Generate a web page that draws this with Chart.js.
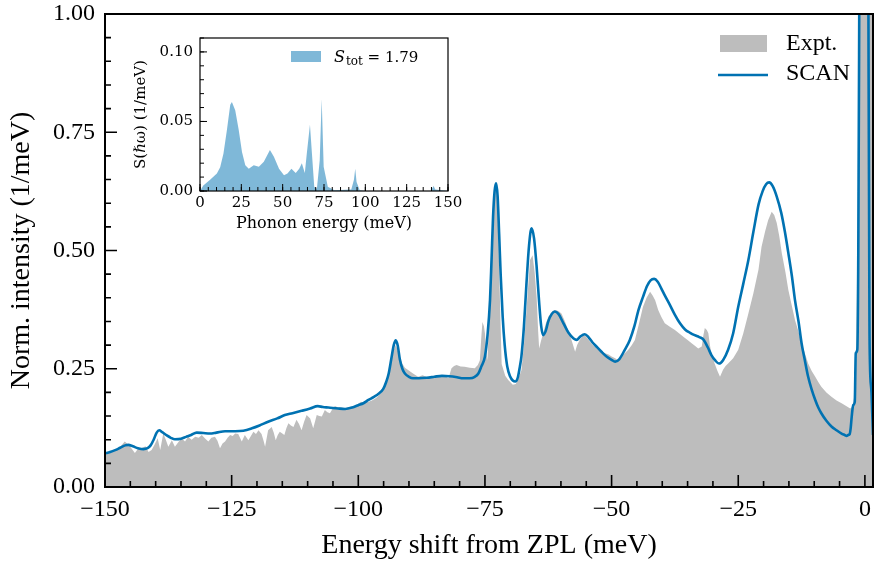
<!DOCTYPE html>
<html>
<head>
<meta charset="utf-8">
<script src="https://cdn.jsdelivr.net/npm/chart.js@4.4.0/dist/chart.umd.min.js"></script>
<style>
  html, body { margin: 0; padding: 0; background: #fff; }
  #wrap { position: relative; width: 876px; height: 562px; }
  #main { position: absolute; left: 0; top: 0; }
  #inset { position: absolute; left: 120px; top: 18px; }
</style>
</head>
<body>
<div id="wrap">
  <canvas id="main" width="876" height="562"></canvas>
  <canvas id="inset" width="360" height="220"></canvas>
</div>
<script>
const exptEnergy = [
  -150.0, -149.0, -148.0, -147.0, -146.1, -145.2, -144.1, -143.4, -142.8, -142.0,
  -141.4, -140.8, -140.2, -139.6, -139.1, -138.5, -138.0, -137.5, -136.8, -136.2,
  -135.5, -134.9, -134.2, -133.6, -132.9, -132.2, -131.5, -130.9, -130.2, -129.6,
  -129.0, -128.3, -127.8, -127.3, -126.8, -126.3, -125.8, -125.3, -124.8, -124.3,
  -123.7, -123.0, -122.4, -121.7, -121.2, -120.7, -120.2, -119.7, -119.1, -118.7,
  -118.4, -117.8, -117.1, -116.7, -116.3, -115.9, -115.5, -115.0, -114.6, -114.2,
  -113.8, -113.3, -112.8, -112.2, -111.7, -111.2, -110.7, -110.2, -109.5, -108.9,
  -108.5, -108.2, -107.7, -107.2, -106.6, -106.1, -105.6, -105.1, -104.6, -104.0,
  -103.3, -102.6, -102.0, -101.3, -100.7, -100.1, -99.5, -98.8, -98.0, -97.3,
  -96.5, -95.8, -95.0, -94.3, -93.8, -93.2, -92.6, -92.1, -91.4, -90.8,
  -90.1, -89.2, -88.2, -87.3, -86.4, -85.5, -84.5, -83.5, -82.8, -82.2,
  -81.6, -81.1, -80.6, -79.8, -79.0, -78.0, -77.0, -76.4, -76.0, -75.7,
  -75.5, -75.2, -75.0, -74.7, -74.5, -74.1, -73.7, -73.3, -72.9, -72.5,
  -72.1, -71.7, -71.0, -70.4, -69.5, -68.9, -68.3, -67.8, -67.3, -66.8,
  -66.1, -65.6, -65.2, -64.8, -64.5, -64.3, -63.9, -63.5, -63.0, -62.5,
  -61.8, -61.2, -60.5, -59.9, -59.2, -58.6, -57.9, -57.2, -56.8, -56.3,
  -55.8, -55.3, -54.6, -54.0, -53.3, -52.6, -52.0, -51.3, -50.6, -50.0,
  -49.3, -48.7, -48.0, -47.4, -46.7, -46.0, -45.4, -44.6, -43.8, -43.1,
  -42.4, -41.9, -41.4, -40.8, -40.2, -39.5, -38.5, -37.5, -36.7, -35.9,
  -35.0, -34.2, -33.5, -32.9, -32.2, -31.9, -31.6, -31.2, -30.9, -30.6,
  -30.3, -29.7, -29.1, -28.6, -28.0, -27.5, -27.0, -26.0, -25.0, -24.0,
  -23.0, -22.0, -21.0, -20.4, -19.7, -19.1, -18.4, -17.9, -17.4, -16.9,
  -16.4, -15.7, -15.1, -14.4, -13.8, -13.1, -12.5, -11.8, -11.2, -10.5,
  -9.8, -9.2, -8.6, -7.6, -6.6, -5.6, -4.6, -3.7, -2.9, -2.4,
  -2.0, -1.7, -1.4, -1.2, -0.8, 0.0, 0.8, 1.2, 1.6
];
const exptIntensity = [
  0.068, 0.072, 0.078, 0.085, 0.096, 0.088, 0.072, 0.082, 0.082, 0.086,
  0.074, 0.078, 0.090, 0.103, 0.078, 0.113, 0.100, 0.085, 0.099, 0.085,
  0.095, 0.103, 0.096, 0.106, 0.100, 0.106, 0.104, 0.110, 0.102, 0.096,
  0.104, 0.106, 0.098, 0.082, 0.092, 0.096, 0.104, 0.110, 0.108, 0.113,
  0.112, 0.096, 0.110, 0.099, 0.108, 0.117, 0.112, 0.120, 0.112, 0.098,
  0.085, 0.120, 0.127, 0.115, 0.099, 0.110, 0.117, 0.113, 0.110, 0.124,
  0.135, 0.130, 0.127, 0.142, 0.133, 0.120, 0.138, 0.152, 0.145, 0.124,
  0.140, 0.152, 0.150, 0.149, 0.163, 0.158, 0.156, 0.165, 0.171, 0.168,
  0.168, 0.166, 0.168, 0.170, 0.171, 0.175, 0.180, 0.178, 0.180, 0.183,
  0.188, 0.195, 0.205, 0.225, 0.245, 0.285, 0.300, 0.285, 0.262, 0.252,
  0.247, 0.240, 0.233, 0.236, 0.232, 0.233, 0.236, 0.237, 0.234, 0.230,
  0.251, 0.256, 0.258, 0.255, 0.254, 0.252, 0.251, 0.258, 0.268, 0.320,
  0.349, 0.340, 0.325, 0.285, 0.268, 0.380, 0.515, 0.600, 0.645, 0.600,
  0.420, 0.260, 0.235, 0.226, 0.216, 0.218, 0.232, 0.247, 0.300, 0.374,
  0.480, 0.490, 0.455, 0.402, 0.330, 0.293, 0.310, 0.325, 0.345, 0.360,
  0.370, 0.374, 0.372, 0.367, 0.350, 0.332, 0.310, 0.286, 0.300, 0.311,
  0.318, 0.321, 0.312, 0.304, 0.296, 0.290, 0.287, 0.283, 0.280, 0.276,
  0.272, 0.268, 0.278, 0.283, 0.290, 0.300, 0.311, 0.345, 0.381, 0.400,
  0.413, 0.405, 0.395, 0.374, 0.360, 0.346, 0.339, 0.332, 0.325, 0.318,
  0.311, 0.304, 0.298, 0.293, 0.297, 0.320, 0.336, 0.332, 0.325, 0.300,
  0.283, 0.262, 0.245, 0.233, 0.248, 0.256, 0.261, 0.272, 0.290, 0.325,
  0.367, 0.410, 0.460, 0.508, 0.540, 0.564, 0.582, 0.575, 0.558, 0.530,
  0.494, 0.455, 0.416, 0.382, 0.353, 0.328, 0.304, 0.281, 0.261, 0.245,
  0.233, 0.222, 0.212, 0.200, 0.191, 0.183, 0.177, 0.171, 0.166, 0.170,
  0.200, 0.280, 0.600, 1.200, 2.000, 2.500, 2.000, 1.600, 1.300
];

// SCAN calculated spectrum
const scanEnergy = [
  -150.0, -149.0, -148.0, -147.0, -146.0, -145.4, -144.5, -143.5, -142.4, -141.6,
  -141.0, -140.4, -139.8, -139.3, -138.7, -137.8, -137.0, -136.2, -135.0, -134.0,
  -133.0, -131.9, -130.6, -129.3, -128.0, -126.3, -124.3, -122.7, -121.0, -119.5,
  -117.8, -116.0, -114.5, -113.0, -111.2, -109.5, -108.0, -107.0, -105.9, -104.0,
  -102.6, -101.2, -100.0, -99.0, -98.0, -97.0, -96.0, -95.1, -94.5, -94.0,
  -93.5, -93.0, -92.6, -92.2, -91.8, -91.3, -90.8, -90.0, -89.2, -88.0,
  -86.5, -85.0, -83.5, -82.0, -80.5, -79.3, -78.0, -77.0, -76.3, -75.7,
  -75.0, -74.5, -74.0, -73.7, -73.4, -73.1, -72.8, -72.5, -72.2, -71.9,
  -71.5, -71.1, -70.6, -70.0, -69.5, -69.0, -68.5, -68.1, -67.8, -67.3,
  -66.8, -66.3, -65.8, -65.3, -64.8, -64.3, -63.9, -63.5, -63.0, -62.5,
  -61.8, -61.2, -60.5, -59.5, -58.5, -57.5, -56.9, -56.2, -55.3, -54.5,
  -53.8, -53.0, -52.0, -51.0, -50.0, -49.3, -48.5, -47.4, -46.4, -45.5,
  -44.7, -43.8, -43.0, -42.3, -41.6, -40.9, -40.2, -39.5, -38.5, -37.5,
  -36.5, -35.5, -34.5, -33.6, -32.7, -31.9, -31.0, -30.3, -29.5, -28.8,
  -28.0, -27.0, -26.0, -25.0, -24.0, -23.0, -22.0, -21.0, -20.2, -19.5,
  -18.9, -18.2, -17.4, -16.5, -15.8, -15.1, -14.4, -13.8, -13.1, -12.5,
  -11.8, -11.2, -10.5, -9.8, -9.2, -8.6, -7.6, -6.6, -5.6, -4.6,
  -4.0, -3.6, -3.3, -3.0, -2.8, -2.6, -2.3, -2.0, -1.8, -1.5,
  -1.3, -1.1, -0.8, -0.4, 0.0, 0.4, 0.7, 0.9, 1.0, 1.3, 1.6
];
const scanIntensity = [
  0.071, 0.074, 0.078, 0.083, 0.088, 0.089, 0.086, 0.082, 0.080, 0.082,
  0.088, 0.100, 0.115, 0.120, 0.116, 0.109, 0.104, 0.101, 0.102, 0.106,
  0.110, 0.115, 0.114, 0.113, 0.115, 0.118, 0.118, 0.119, 0.124, 0.130,
  0.138, 0.145, 0.152, 0.156, 0.161, 0.166, 0.171, 0.169, 0.168, 0.166,
  0.165, 0.168, 0.173, 0.177, 0.184, 0.190, 0.197, 0.207, 0.222, 0.240,
  0.270, 0.300, 0.310, 0.298, 0.270, 0.250, 0.240, 0.233, 0.230, 0.230,
  0.231, 0.233, 0.235, 0.234, 0.232, 0.230, 0.230, 0.233, 0.240, 0.255,
  0.276, 0.320, 0.395, 0.480, 0.571, 0.625, 0.642, 0.615, 0.536, 0.450,
  0.360, 0.300, 0.255, 0.233, 0.225, 0.223, 0.232, 0.255, 0.276, 0.340,
  0.431, 0.510, 0.547, 0.525, 0.466, 0.390, 0.340, 0.321, 0.330, 0.350,
  0.366, 0.371, 0.366, 0.346, 0.326, 0.314, 0.311, 0.318, 0.323, 0.316,
  0.306, 0.297, 0.286, 0.276, 0.269, 0.265, 0.270, 0.290, 0.311, 0.340,
  0.374, 0.402, 0.425, 0.437, 0.440, 0.434, 0.420, 0.405, 0.385, 0.364,
  0.346, 0.333, 0.326, 0.321, 0.317, 0.312, 0.295, 0.279, 0.267, 0.261,
  0.268, 0.290, 0.325, 0.381, 0.430, 0.480, 0.540, 0.597, 0.625, 0.640,
  0.644, 0.636, 0.614, 0.579, 0.540, 0.494, 0.445, 0.395, 0.350, 0.304,
  0.265, 0.233, 0.206, 0.184, 0.168, 0.156, 0.140, 0.128, 0.120, 0.113,
  0.110, 0.108, 0.110, 0.112, 0.125, 0.149, 0.173, 0.180, 0.283, 0.290,
  0.500, 1.050, 2.000, 2.800, 3.000, 2.200, 1.000, 0.350, 0.260, 0.200, 0.110
];

// Inset: spectral function S(hw)
const phononEnergy = [
  0.0, 2.0, 6.1, 10.2, 12.2, 14.2, 16.3, 18.3, 19.3, 21.3,
  23.4, 25.4, 27.4, 29.5, 32.5, 35.6, 38.6, 42.3, 44.7, 47.8,
  50.8, 52.9, 55.3, 57.9, 60.0, 61.6, 63.4, 64.6, 66.5, 67.7,
  69.1, 70.7, 72.4, 73.6, 74.8, 77.3, 81.3, 91.5, 93.1, 93.9,
  94.7, 96.6, 99.6, 139.5, 140.3, 141.3, 142.3, 150.0
];
const phononS = [
  0.000, 0.004, 0.008, 0.0126, 0.017, 0.027, 0.044, 0.062, 0.064, 0.058,
  0.044, 0.028, 0.0186, 0.016, 0.0186, 0.0174, 0.021, 0.0295, 0.0246, 0.016,
  0.0113, 0.0126, 0.016, 0.013, 0.016, 0.020, 0.013, 0.027, 0.0476, 0.027,
  0.003, 0.0017, 0.022, 0.066, 0.0174, 0.003, 0.0005, 0.001, 0.008, 0.016,
  0.0065, 0.0005, 0.000, 0.000, 0.0017, 0.0036, 0.001, 0.000
];

const mainXTicks = [-150, -125, -100, -75, -50, -25, 0];
const mainYTicks = [0, 0.25, 0.5, 0.75, 1.0];
const insetXTicks = [0, 25, 50, 75, 100, 125, 150];
const insetYTicks = [0, 0.05, 0.10];

const blue = '#0072b2';
const gray = '#bdbdbd';
const serif = "'Liberation Serif', 'Times New Roman', serif";
const insetFont = "'DejaVu Serif', serif";

function fmtMinus(v, digits) {
  const s = v.toFixed(digits);
  return s.replace('-', '\u2212');
}

// no extra room for the end labels: the plot box is placed by layout padding only
function noEdgePad(s) {
  s.paddingTop = 0; s.paddingBottom = 0;
  s.paddingLeft = 0; s.paddingRight = 0;
}

// inward ticks (major + minor) and a full box around the plot
const frameTicks = {
  id: 'frameTicks',
  afterDatasetsDraw(chart, args, o) {
    const { ctx, chartArea: a, scales: { x, y } } = chart;
    ctx.save();
    ctx.strokeStyle = '#000';
    ctx.lineWidth = o.tickWidth;
    ctx.beginPath();
    const marks = (scale, step, len, horiz) => {
      for (let k = Math.ceil(scale.min / step - 1e-9); k * step <= scale.max + 1e-9; k++) {
        const p = scale.getPixelForValue(k * step);
        if (horiz) { ctx.moveTo(p, a.bottom); ctx.lineTo(p, a.bottom - len); }
        else { ctx.moveTo(a.left, p); ctx.lineTo(a.left + len, p); }
      }
    };
    marks(x, o.xMinor, o.minorLen, true);
    marks(x, o.xMajor, o.majorLen, true);
    marks(y, o.yMinor, o.minorLen, false);
    marks(y, o.yMajor, o.majorLen, false);
    ctx.stroke();
    ctx.lineWidth = o.frameWidth;
    ctx.strokeRect(a.left, a.top, a.right - a.left, a.bottom - a.top);
    ctx.restore();
  }
};

// legend inside the main axes
const mainLegend = {
  id: 'mainLegend',
  afterDraw(chart) {
    const { ctx, chartArea: a } = chart;
    const ds = chart.data.datasets;
    ctx.save();
    ctx.font = '24px ' + serif;
    ctx.textBaseline = 'middle';
    ctx.fillStyle = ds[0].backgroundColor;
    ctx.fillRect(a.right - 153, a.top + 21, 47, 17);
    ctx.fillStyle = '#000';
    ctx.fillText(ds[0].label, a.right - 87, a.top + 30);
    ctx.strokeStyle = ds[1].borderColor;
    ctx.lineWidth = ds[1].borderWidth;
    ctx.beginPath();
    ctx.moveTo(a.right - 155, a.top + 61);
    ctx.lineTo(a.right - 105, a.top + 61);
    ctx.stroke();
    ctx.fillText(ds[1].label, a.right - 87, a.top + 60);
    ctx.restore();
  }
};

// inset: white face + legend with subscript
const insetDeco = {
  id: 'insetDeco',
  beforeDraw(chart) {
    const { ctx, chartArea: a } = chart;
    ctx.save();
    ctx.fillStyle = '#fff';
    ctx.fillRect(a.left, a.top, a.right - a.left, a.bottom - a.top);
    ctx.restore();
  },
  afterDraw(chart) {
    const { ctx, chartArea: a } = chart;
    const ds = chart.data.datasets[0];
    ctx.save();
    ctx.fillStyle = ds.backgroundColor;
    ctx.fillRect(a.left + 91, a.top + 13, 30, 11);
    ctx.fillStyle = '#000';
    ctx.textBaseline = 'alphabetic';
    let cx = a.left + 134;
    const base = a.top + 24;
    ctx.font = 'italic 16px ' + insetFont;
    ctx.fillText('S', cx, base);
    cx += ctx.measureText('S').width + 1;
    ctx.font = '12px ' + insetFont;
    ctx.fillText('tot', cx, base + 3);
    cx += ctx.measureText('tot').width;
    ctx.font = '15px ' + insetFont;
    ctx.fillText(' = 1.79', cx, base);
    ctx.restore();
  }
};

new Chart(document.getElementById('main').getContext('2d'), {
  type: 'line',
  data: {
    datasets: [
      {
        label: 'Expt.',
        data: exptEnergy.map((e, i) => ({ x: e, y: exptIntensity[i] })),
        backgroundColor: gray,
        borderWidth: 0,
        pointRadius: 0,
        fill: 'origin',
        order: 2
      },
      {
        label: 'SCAN',
        data: scanEnergy.map((e, i) => ({ x: e, y: scanIntensity[i] })),
        borderColor: blue,
        borderWidth: 2.6,
        pointRadius: 0,
        fill: false,
        cubicInterpolationMode: 'monotone',
        order: 1
      }
    ]
  },
  options: {
    responsive: false,
    animation: false,
    events: [],
    layout: { padding: { top: 14, right: 3, left: 0, bottom: 0 } },
    scales: {
      x: {
        type: 'linear',
        min: -150,
        max: 1.6,
        afterBuildTicks: s => { s.ticks = mainXTicks.map(v => ({ value: v })); },
        afterFit: s => { s.height = 75; noEdgePad(s); },
        grid: { display: false, drawTicks: false },
        border: { display: false },
        ticks: {
          padding: 8,
          maxRotation: 0,
          autoSkip: false,
          color: '#000',
          font: { family: serif, size: 24 },
          callback: v => fmtMinus(v, 0)
        },
        title: {
          display: true,
          text: 'Energy shift from ZPL (meV)',
          color: '#000',
          font: { family: serif, size: 28 },
          padding: { top: 0, bottom: 0 }
        }
      },
      y: {
        min: 0,
        max: 1,
        afterBuildTicks: s => { s.ticks = mainYTicks.map(v => ({ value: v })); },
        afterFit: s => { s.width = 105; noEdgePad(s); },
        grid: { display: false, drawTicks: false },
        border: { display: false },
        ticks: {
          padding: 10,
          color: '#000',
          font: { family: serif, size: 24 },
          callback: v => v.toFixed(2)
        },
        title: {
          display: true,
          text: 'Norm. intensity (1/meV)',
          color: '#000',
          font: { family: serif, size: 28 },
          padding: { top: 5, bottom: 0 }
        }
      }
    },
    plugins: {
      legend: { display: false },
      tooltip: { enabled: false },
      frameTicks: {
        tickWidth: 1.6, frameWidth: 2,
        xMajor: 25, xMinor: 5, yMajor: 0.25, yMinor: 0.05,
        majorLen: 12, minorLen: 6
      }
    }
  },
  plugins: [frameTicks, mainLegend]
});

new Chart(document.getElementById('inset').getContext('2d'), {
  type: 'line',
  data: {
    datasets: [{
      label: 'S_tot = 1.79',
      data: phononEnergy.map((e, i) => ({ x: e, y: phononS[i] })),
      backgroundColor: 'rgba(0, 114, 178, 0.5)',
      borderWidth: 0,
      pointRadius: 0,
      fill: 'origin'
    }]
  },
  options: {
    responsive: false,
    animation: false,
    events: [],
    layout: { padding: { top: 20, right: 32, left: 0, bottom: 0 } },
    scales: {
      x: {
        type: 'linear',
        min: 0,
        max: 150,
        afterBuildTicks: s => { s.ticks = insetXTicks.map(v => ({ value: v })); },
        afterFit: s => { s.height = 47; noEdgePad(s); },
        grid: { display: false, drawTicks: false },
        border: { display: false },
        ticks: {
          padding: 3,
          maxRotation: 0,
          autoSkip: false,
          color: '#000',
          font: { family: insetFont, size: 15 },
          callback: v => String(v)
        },
        title: {
          display: true,
          text: 'Phonon energy (meV)',
          color: '#000',
          font: { family: insetFont, size: 16 },
          padding: { top: 0, bottom: 5 }
        }
      },
      y: {
        min: 0,
        max: 0.11,
        afterBuildTicks: s => { s.ticks = insetYTicks.map(v => ({ value: v })); },
        afterFit: s => { s.width = 80; noEdgePad(s); },
        grid: { display: false, drawTicks: false },
        border: { display: false },
        ticks: {
          padding: 7,
          color: '#000',
          font: { family: insetFont, size: 15 },
          callback: v => v.toFixed(2)
        },
        title: {
          display: true,
          text: 'S(\u210F\u03C9) (1/meV)',
          color: '#000',
          font: { family: insetFont, size: 15 },
          padding: { top: 12, bottom: 0 }
        }
      }
    },
    plugins: {
      legend: { display: false },
      tooltip: { enabled: false },
      frameTicks: {
        tickWidth: 1, frameWidth: 1.2,
        xMajor: 25, xMinor: 5, yMajor: 0.05, yMinor: 0.01,
        majorLen: 7, minorLen: 4
      }
    }
  },
  plugins: [frameTicks, insetDeco]
});
</script>
</body>
</html>
